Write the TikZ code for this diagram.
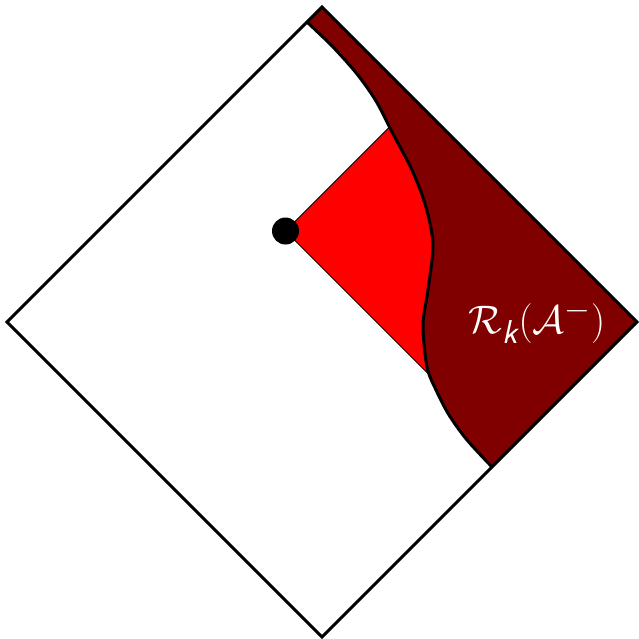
\documentclass[tikz,border=0pt]{standalone}
\usepackage{amsmath}
\usepackage{graphicx}
\definecolor{maroonreg}{HTML}{800000}
\definecolor{brightred}{HTML}{FF0000}
\tikzset{
  outline/.style={line width=3pt, line join=miter},
  cutcurve/.style={line width=3pt},
  redbox/.style={fill=brightred, draw=black, line width=0.8pt},
  darkreg/.style={fill=maroonreg},
  pointdot/.style={circle, fill=black, inner sep=0pt, minimum size=27pt},
  reglabel/.style={text=white, font=\fontsize{24.88}{30}\selectfont}
}
\def\cutpts{(307,22) (333,47) (357,74) (376,101) (392,132) (412,170) (426,207) (433,245) (428,290) (423,325) (427,367) (436,390) (449,415) (467,440) (492,467)}
\begin{document}
\begin{tikzpicture}[x=1pt,y=-1pt]
\useasboundingbox (0,0) rectangle (639,638);
% diamond vertices
\coordinate (T) at (322,7);
\coordinate (L) at (7,322);
\coordinate (B) at (322,637);
\coordinate (R) at (637,322);
% red region corners
\coordinate (P) at (285.5,231);
\coordinate (PU) at (400,116.5);
\coordinate (PF) at (555,271);
\coordinate (PL) at (440,385.5);
\path[redbox] (P) -- (PU) -- (PF) -- (PL) -- cycle;
\path[darkreg] plot[smooth, tension=0.5] coordinates {\cutpts} -- (R) -- (T) -- cycle;
\draw[cutcurve] plot[smooth, tension=0.5] coordinates {\cutpts};
\draw[outline] (T) -- (R) -- (B) -- (L) -- cycle;
\node[pointdot] (dot) at (P) {};
\node[reglabel] (lab) at (537,322) {\scalebox{1.6}{$\mathcal{R}_{\textsf{\slshape k}}(\mathcal{A}^-)$}};
\end{tikzpicture}
\end{document}
